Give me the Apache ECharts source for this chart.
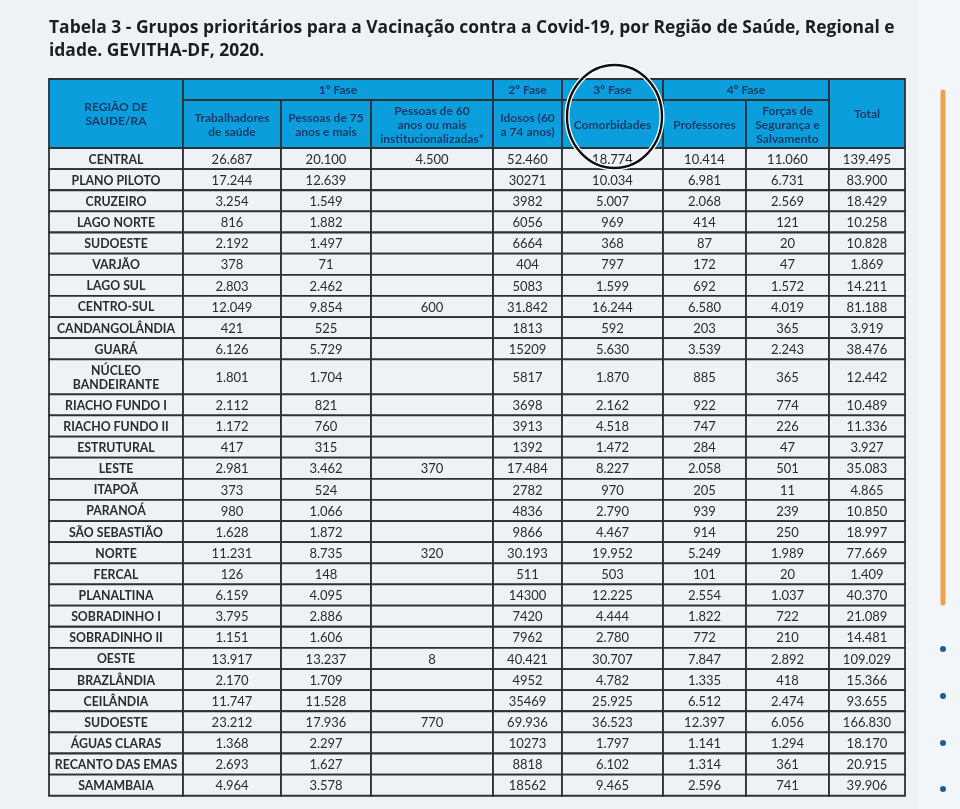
<!DOCTYPE html>
<html>
<head>
<meta charset="utf-8">
<script src="https://cdn.jsdelivr.net/npm/echarts@6/dist/echarts.min.js"></script>
<style>
  html, body { margin: 0; padding: 0; background: #eef2f5; }
  #chart { width: 960px; height: 809px; }
</style>
</head>
<body>
<div id="chart"></div>
<script>
(function(){
  // table content (kept as printed, dots and all)
  var regions = ['CENTRAL', 'PLANO PILOTO', 'CRUZEIRO', 'LAGO NORTE', 'SUDOESTE', 'VARJÃO', 'LAGO SUL', 'CENTRO-SUL',
    'CANDANGOLÂNDIA', 'GUARÁ', 'NÚCLEO\nBANDEIRANTE', 'RIACHO FUNDO I', 'RIACHO FUNDO II', 'ESTRUTURAL', 'LESTE', 'ITAPOÃ',
    'PARANOÁ', 'SÃO SEBASTIÃO', 'NORTE', 'FERCAL', 'PLANALTINA', 'SOBRADINHO I', 'SOBRADINHO II', 'OESTE', 'BRAZLÂNDIA',
    'CEILÂNDIA', 'SUDOESTE', 'ÁGUAS CLARAS', 'RECANTO DAS EMAS', 'SAMAMBAIA'];
  var trabalhadores = ['26.687', '17.244', '3.254', '816', '2.192', '378', '2.803', '12.049', '421', '6.126', '1.801', '2.112',
    '1.172', '417', '2.981', '373', '980', '1.628', '11.231', '126', '6.159', '3.795', '1.151', '13.917', '2.170', '11.747',
    '23.212', '1.368', '2.693', '4.964'];
  var mais75 = ['20.100', '12.639', '1.549', '1.882', '1.497', '71', '2.462', '9.854', '525', '5.729', '1.704', '821', '760',
    '315', '3.462', '524', '1.066', '1.872', '8.735', '148', '4.095', '2.886', '1.606', '13.237', '1.709', '11.528', '17.936',
    '2.297', '1.627', '3.578'];
  var institucionalizadas = ['4.500', '', '', '', '', '', '', '600', '', '', '', '', '', '', '370', '', '', '', '320', '', '',
    '', '', '8', '', '', '770', '', '', ''];
  var idosos = ['52.460', '30271', '3982', '6056', '6664', '404', '5083', '31.842', '1813', '15209', '5817', '3698', '3913',
    '1392', '17.484', '2782', '4836', '9866', '30.193', '511', '14300', '7420', '7962', '40.421', '4952', '35469', '69.936',
    '10273', '8818', '18562'];
  var comorbidades = ['18.774', '10.034', '5.007', '969', '368', '797', '1.599', '16.244', '592', '5.630', '1.870', '2.162',
    '4.518', '1.472', '8.227', '970', '2.790', '4.467', '19.952', '503', '12.225', '4.444', '2.780', '30.707', '4.782',
    '25.925', '36.523', '1.797', '6.102', '9.465'];
  var professores = ['10.414', '6.981', '2.068', '414', '87', '172', '692', '6.580', '203', '3.539', '885', '922', '747', '284',
    '2.058', '205', '939', '914', '5.249', '101', '2.554', '1.822', '772', '7.847', '1.335', '6.512', '12.397', '1.141',
    '1.314', '2.596'];
  var forcas = ['11.060', '6.731', '2.569', '121', '20', '47', '1.572', '4.019', '365', '2.243', '365', '774', '226', '47', '501',
    '11', '239', '250', '1.989', '20', '1.037', '722', '210', '2.892', '418', '2.474', '6.056', '1.294', '361', '741'];
  var totals = ['139.495', '83.900', '18.429', '10.258', '10.828', '1.869', '14.211', '81.188', '3.919', '38.476', '12.442',
    '10.489', '11.336', '3.927', '35.083', '4.865', '10.850', '18.997', '77.669', '1.409', '40.370', '21.089', '14.481',
    '109.029', '15.366', '93.655', '166.830', '18.170', '20.915', '39.906'];
  var phases = ['1º Fase', '2º Fase', '3º Fase', '4º Fase'];
  var subHeaders = ['REGIÃO DE\nSAUDE/RA', 'Trabalhadores\nde saúde', 'Pessoas de 75\nanos e mais',
    'Pessoas de 60\nanos ou mais\ninstitucionalizadas*', 'Idosos (60\na 74 anos)', 'Comorbidades', 'Professores',
    'Forças de\nSegurança e\nSalvamento', 'Total'];
  var title = 'Tabela 3 - Grupos prioritários para a Vacinação contra a Covid-19, por Região de Saúde, Regional e\nidade. GEVITHA-DF, 2020.';

  // layout (axis units): column widths, row heights
  var colW = [134, 98, 90, 122, 69, 101, 83, 83, 76];
  var headH = [21, 48];
  var rowH = 21.13, tallRowH = 35;

  var colX = [0];
  colW.forEach(function(w, i){ colX.push(colX[i] + w); });
  var columns = [regions, trabalhadores, mais75, institucionalizadas, idosos, comorbidades, professores, forcas, totals];
  var rowY = [0, headH[0], headH[0] + headH[1]];
  regions.forEach(function(r, i){
    rowY.push(rowY[rowY.length - 1] + (r.indexOf('\n') >= 0 ? tallRowH : rowH));
  });
  var totalW = colX[colX.length - 1];
  var totalH = rowY[rowY.length - 1];

  // cells: [x0, y0, x1, y1, text, kind]
  var cells = [];
  function cell(c0, c1, r0, r1, text, kind) {
    cells.push([colX[c0], rowY[r0], colX[c1], rowY[r1], text, kind]);
  }
  cell(0, 1, 0, 2, subHeaders[0], 'head');
  cell(1, 4, 0, 1, phases[0], 'head');
  cell(4, 5, 0, 1, phases[1], 'head');
  cell(5, 6, 0, 1, phases[2], 'head');
  cell(6, 8, 0, 1, phases[3], 'head');
  cell(8, 9, 0, 2, subHeaders[8], 'head');
  for (var c = 1; c < 8; c++) cell(c, c + 1, 1, 2, subHeaders[c], 'head');
  regions.forEach(function(r, i){
    columns.forEach(function(col, c){
      cell(c, c + 1, i + 2, i + 3, col[i], c === 0 ? 'region' : 'num');
    });
  });

  var NAVY = '#1c3b6a';
  var chart = echarts.init(document.getElementById('chart'), null, {renderer: 'canvas'});
  chart.setOption({
    animation: false,
    backgroundColor: '#eef2f5',
    title: {
      text: title,
      left: 44, top: 12,
      textStyle: {fontFamily: 'Open Sans', fontWeight: 'bold', fontSize: 17.45, lineHeight: 23, color: '#1d1d1f'}
    },
    grid: {left: 49, top: 79, width: totalW, height: totalH},
    xAxis: {type: 'value', min: 0, max: totalW, show: false},
    yAxis: {type: 'value', min: 0, max: totalH, inverse: true, show: false},
    graphic: [
      {type: 'rect', shape: {x: 918, y: 0, width: 42, height: 809}, style: {fill: '#f3f6f8'}, z: -1},
      {type: 'line', shape: {x1: 943, y1: 92, x2: 943, y2: 603},
        style: {stroke: '#eba24c', lineWidth: 5, lineCap: 'round'}},
      {type: 'circle', shape: {cx: 943, cy: 649, r: 3}, style: {fill: '#1f5d97'}},
      {type: 'circle', shape: {cx: 943, cy: 696, r: 3}, style: {fill: '#1f5d97'}},
      {type: 'circle', shape: {cx: 943, cy: 743, r: 3}, style: {fill: '#1f5d97'}},
      {type: 'circle', shape: {cx: 943, cy: 789, r: 3}, style: {fill: '#1f5d97'}}
    ],
    series: [{
      type: 'custom',
      data: cells,
      renderItem: function(params, api){
        var d = cells[params.dataIndex];
        var p0 = api.coord([d[0], d[1]]);
        var p1 = api.coord([d[2], d[3]]);
        var head = d[5] === 'head';
        return {
          type: 'group',
          children: [{
            type: 'rect',
            shape: {x: p0[0], y: p0[1], width: p1[0] - p0[0], height: p1[1] - p0[1]},
            style: {fill: head ? '#0a9fdc' : '#eef2f6', stroke: '#2c3136', lineWidth: 1.8}
          }, {
            type: 'text',
            x: (p0[0] + p1[0]) / 2,
            y: (p0[1] + p1[1]) / 2 + 1,
            style: {
              text: d[4],
              align: 'center', verticalAlign: 'middle',
              fill: head ? NAVY : '#2b2b2d',
              fontFamily: 'Lato',
              fontWeight: d[5] === 'num' ? 'normal' : 'bold',
              fontSize: head ? 12 : (d[5] === 'region' ? 12.3 : 13),
              lineHeight: 14
            }
          }]
        };
      }
    }, {
      // hand-drawn ring around the 3rd-phase header
      type: 'custom',
      data: [[colX[5], rowY[0], colX[6], rowY[2]]],
      z: 5,
      renderItem: function(params, api){
        var p0 = api.coord([api.value(0), api.value(1)]);
        var p1 = api.coord([api.value(2), api.value(3)]);
        var cx = (p0[0] + p1[0]) / 2 + 2, cy = (p0[1] + p1[1]) / 2 + 3;
        var rx = (p1[0] - p0[0]) / 2 - 3, ry = (p1[1] - p0[1]) / 2 + 17;
        return {
          type: 'group',
          children: [
            {type: 'ellipse', shape: {cx: cx, cy: cy, rx: rx, ry: ry}, style: {fill: 'none', stroke: '#ffffff', lineWidth: 5}},
            {type: 'ellipse', shape: {cx: cx, cy: cy, rx: rx, ry: ry}, style: {fill: 'none', stroke: '#111111', lineWidth: 2.4}}
          ]
        };
      }
    }]
  });
  window.addEventListener('resize', function(){ chart.resize(); });
})();
</script>
</body>
</html>
